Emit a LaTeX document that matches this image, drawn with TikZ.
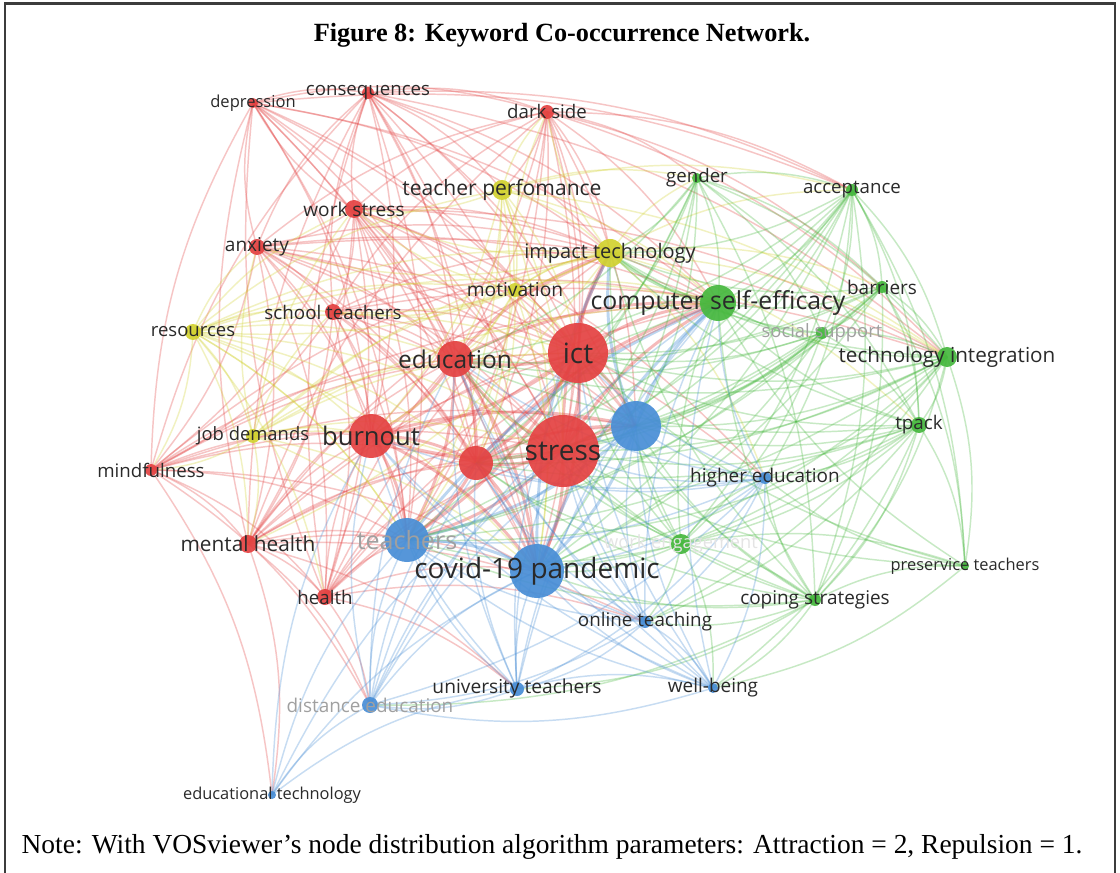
\documentclass[tikz,border=0pt]{standalone}
\usepackage{fontspec}
\setmainfont{Liberation Serif}
\newfontfamily\vosfont{Open Sans}
\pgfdeclarelayer{edges}
\pgfdeclarelayer{labels}
\pgfsetlayers{edges,main,labels}
\definecolor{cr}{RGB}{228,66,66}
\definecolor{cg}{RGB}{70,184,62}
\definecolor{cb}{RGB}{72,142,214}
\definecolor{cy}{RGB}{210,210,48}
\definecolor{labc}{RGB}{42,42,42}
\definecolor{fadec}{RGB}{160,160,160}
\definecolor{framec}{RGB}{60,60,60}
\tikzset{
  vn/.style={circle, inner sep=0pt, opacity=0.92},
  lab/.style={text=labc, inner sep=0pt},
  faded/.style={text=fadec},
  edgebase/.style={line width=1.1pt, draw opacity=0.3},
  er/.style={edgebase, draw=cr},
  eg/.style={edgebase, draw=cg},
  eb/.style={edgebase, draw=cb},
  ey/.style={edgebase, draw=cy},
  hub/.style={line width=2.2pt, draw opacity=0.36},
  vbend/.style={bend left=14},
}
% [label opts]{name}{x}{y}{radius px}{colour}{font pt}{text}
\newcommand\vnode[8][]{%
  \node[vn, fill=#6, minimum size=#5*1.5pt] (#2) at (#3,#4) {};
  \begin{pgfonlayer}{labels}
  \node[lab, font=\vosfont\fontsize{#7}{#7}\selectfont, #1] (#2-l) at (#3,#4) {#8};
  \end{pgfonlayer}}
\begin{document}
\begin{tikzpicture}[x=0.75pt,y=-0.75pt]
\useasboundingbox (0,0) rectangle (1120,873);
\begin{pgfonlayer}{edges}
\fill[white] (0,0) rectangle (1120,873);
\end{pgfonlayer}
\draw[framec, line width=1.6pt] (5,873) -- (5,3.5) -- (1115,3.5) -- (1115,873);
\node[font=\fontsize{19.7}{23}\selectfont\bfseries] (title) at (562,35) {Figure 8: Keyword Co-occurrence Network.};
\node[font=\fontsize{20.6}{24}\selectfont] (note) at (552,847) {Note: With VOSviewer’s node distribution algorithm parameters: Attraction = 2, Repulsion = 1.};

% ---- nodes ----
% red
\vnode{ict}{578}{353}{30}{cr}{21}{ict}
\vnode{stress}{563}{451}{36}{cr}{21}{stress}
\vnode{edu}{455}{359}{18}{cr}{18.4}{education}
\vnode{burn}{371}{436}{22}{cr}{19.2}{burnout}
\vnode{rx}{476}{463}{17}{cr}{10}{}
\vnode{ws}{354}{209}{9}{cr}{14.3}{work stress}
\vnode{anx}{257}{247}{8}{cr}{14.3}{anxiety}
\vnode{sch}{333}{312}{8}{cr}{14.1}{school teachers}
\vnode{mind}{151}{470}{6}{cr}{14}{mindfulness}
\vnode{mh}{248}{544}{9}{cr}{15.6}{mental health}
\vnode{hea}{325}{597}{8}{cr}{14}{health}
\vnode{dep}{253}{103}{5}{cr}{12.4}{depression}
\vnode{con}{368}{93}{6}{cr}{14}{consequences}
\vnode{ds}{547}{112}{7}{cr}{14}{dark side}
% yellow
\vnode{imp}{610}{253}{14}{cy}{15}{impact technology}
\vnode{tpf}{502}{190}{10}{cy}{15.8}{teacher perfomance}
\vnode{mot}{515}{290}{7}{cy}{14.4}{motivation}
\vnode{res}{193}{332}{8}{cy}{13.9}{resources}
\vnode{jd}{253}{436}{7}{cy}{13.8}{job demands}
% green
\vnode{cse}{718}{303}{18}{cg}{18.6}{computer self-efficacy}
\vnode{gen}{697}{178}{5}{cg}{14}{gender}
\vnode{acc}{852}{190}{6}{cg}{14}{acceptance}
\vnode{bar}{882}{287}{6}{cg}{14.2}{barriers}
\vnode[faded]{ss}{822}{333}{6}{cg}{13.8}{social support}
\vnode{ti}{947}{357}{10}{cg}{15.5}{technology integration}
\vnode{tp}{919}{425}{8}{cg}{14.1}{tpack}
\vnode[text={rgb,255:red,228;green,228;blue,228}]{we}{681}{544}{10}{cg}{13.7}{work engagement}
\vnode{pre}{965}{566}{4}{cg}{12.3}{preservice teachers}
\vnode{cs}{815}{600}{6}{cg}{14.2}{coping strategies}
% blue
\vnode{bx}{636}{426}{25}{cb}{10}{}
\vnode[faded]{tea}{407}{540}{22}{cb}{18.8}{teachers}
\vnode{cov}{537}{571}{27}{cb}{21}{covid-19 pandemic}
\vnode{he}{765}{478}{6}{cb}{14.2}{higher education}
\vnode{ot}{645}{622}{6}{cb}{14.1}{online teaching}
\vnode{ut}{517}{689}{7}{cb}{14.4}{university teachers}
\vnode{wb}{713}{688}{5}{cb}{14.2}{well-being}
\vnode[faded]{de}{370}{705}{8}{cb}{14.2}{distance education}
\vnode{et}{272}{795}{4}{cb}{12.3}{educational technology}

% ---- edges ----
\begin{pgfonlayer}{edges}
% hub links
\foreach \a/\b in {ict/stress,ict/edu,ict/burn,ict/rx,ict/tea,ict/cov,ict/cse,ict/bx,ict/imp,
  stress/edu,stress/burn,stress/rx,stress/tea,stress/cov,stress/cse,stress/bx,stress/imp,
  edu/burn,edu/rx,edu/tea,edu/cov,edu/cse,edu/imp,burn/rx,burn/tea,burn/cov,burn/bx,
  rx/tea,rx/cov,rx/bx,rx/cse}
  \draw[er,hub] (\a.center) to[vbend] (\b.center);
\foreach \a/\b in {bx/tea,bx/cov,bx/cse,tea/cov,tea/cse,cov/cse,cov/imp,bx/imp}
  \draw[eb,hub] (\a.center) to[vbend] (\b.center);
\draw[eg,hub] (cse.center) to[vbend] (imp.center);
% red periphery to hubs
\foreach \p in {ws,anx,sch,mind,mh,hea,dep,con,ds}{
  \foreach \h in {ict,stress,edu,burn,rx,tea,cov,bx,cse,imp}{
    \draw[er] (\p.center) to[vbend] (\h.center);}}
% red periphery pairs and cross links
\foreach \a/\b in {ws/anx,ws/sch,ws/mind,ws/mh,ws/hea,ws/dep,ws/con,ws/ds,anx/sch,anx/mind,anx/mh,
  anx/hea,anx/dep,anx/con,anx/ds,sch/mind,sch/mh,sch/hea,sch/con,sch/ds,mind/mh,mind/hea,mind/dep,
  mind/con,mh/hea,mh/dep,mh/con,mh/ds,hea/dep,hea/con,dep/con,dep/ds,con/ds,
  ds/gen,ds/acc,ds/tpf,con/tpf,con/acc,mh/de,mh/ut,mh/et,mind/et,mind/de,hea/de,hea/ut,anx/he,
  ws/he,mh/ot,hea/ot,anx/ti,ws/ti,ds/ti,con/ti,sch/ti,ds/bar,dep/acc}
  \draw[er] (\a.center) to[vbend] (\b.center);
% yellow
\foreach \p in {tpf,mot,res,jd}{
  \foreach \h in {ict,stress,edu,burn,rx,imp,cse,tea,cov}{
    \draw[ey] (\p.center) to[vbend] (\h.center);}}
\foreach \a/\b in {tpf/mot,mot/imp,res/jd,res/tpf,jd/mot,res/mot,tpf/ds,tpf/ws,tpf/gen,tpf/acc,
  tpf/ti,res/anx,res/mind,res/ws,res/mh,res/sch,jd/mh,jd/mind,jd/anx,jd/sch,jd/ws,imp/ds,imp/gen,
  imp/acc,imp/ti,imp/bar,imp/tp,imp/ws,imp/anx,imp/he,mot/ws,mot/sch,mot/ds,imp/sch,imp/res,
  res/hea,imp/mh,res/tea}
  \draw[ey] (\a.center) to[vbend] (\b.center);
% green
\foreach \p in {gen,acc,bar,ss,ti,tp,we,cs}{
  \foreach \h in {ict,stress,cse,bx,cov,edu,tea,rx,imp}{
    \draw[eg] (\p.center) to[vbend] (\h.center);}}
\foreach \a/\b in {pre/cse,pre/stress,pre/ict,gen/acc,gen/bar,gen/ti,gen/tp,gen/ss,acc/bar,acc/ss,
  acc/ti,acc/tp,acc/pre,bar/ss,bar/ti,bar/tp,bar/pre,ss/ti,ss/tp,ss/we,ti/tp,ti/pre,ti/we,ti/cs,
  tp/pre,tp/we,tp/cs,we/cs,we/pre,cs/pre,gen/cs,acc/cs,bar/cs,acc/we,
  ti/he,tp/he,cs/he,we/he,cs/ot,cs/wb,we/ot,we/wb,cs/ut,tp/ot,ti/ot,acc/he,tp/wb,cs/de,pre/he,pre/wb}
  \draw[eg] (\a.center) to[vbend] (\b.center);
% blue
\foreach \p in {he,ot,ut,wb,de}{
  \foreach \h in {cov,tea,bx,stress,ict,burn,rx,edu,cse}{
    \draw[eb] (\p.center) to[vbend] (\h.center);}}
\foreach \a/\b in {et/cov,et/tea,et/stress,et/burn,he/ot,he/ut,he/wb,he/de,ot/ut,ot/wb,ot/de,
  ut/wb,ut/de,wb/de,et/de,et/ut}
  \draw[eb] (\a.center) to[vbend] (\b.center);
\end{pgfonlayer}
\end{tikzpicture}
\end{document}
